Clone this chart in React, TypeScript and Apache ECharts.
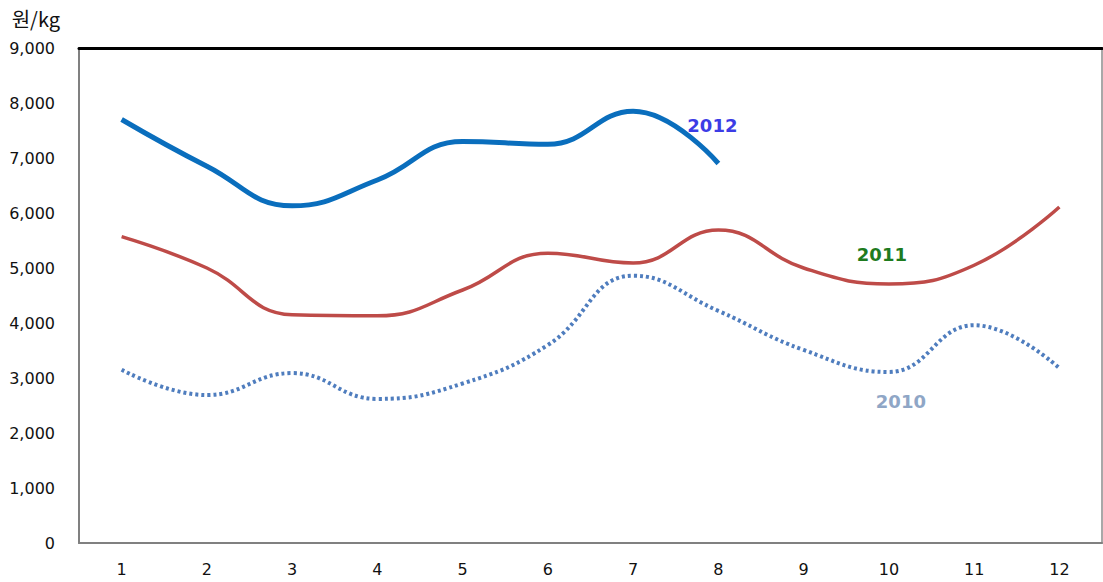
import React, { useEffect, useRef } from "react";
import * as echarts from "echarts";

const months = ["1", "2", "3", "4", "5", "6", "7", "8", "9", "10", "11", "12"];
const y2012 = [7700, 6850, 6130, 6600, 7300, 7250, 7850, 6900, null, null, null, null];
const y2011 = [5570, 5000, 4150, 4130, 4600, 5270, 5090, 5690, 5000, 4710, 5050, 6110];
const y2010 = [3150, 2690, 3090, 2620, 2900, 3600, 4860, 4220, 3510, 3110, 3960, 3180];
const yTicks = { min: 0, max: 9000, interval: 1000 };
const unitLabel = "원/kg";

const FONT = "'DejaVu Sans', 'Noto Sans CJK KR', sans-serif";
const KFONT = "'Noto Sans CJK KR', 'DejaVu Sans', sans-serif";

export default function App() {
  const ref = useRef<HTMLDivElement>(null);
  useEffect(() => {
    document.body.style.margin = "0";
    if (!ref.current) return;
    const chart = echarts.init(ref.current, null, { renderer: "svg" });
    const labelMark = (text: string, coord: [string, number], color: string, dx: number) => ({
      symbol: "circle",
      symbolSize: 0,
      silent: true,
      data: [
        {
          coord,
          label: {
            show: true,
            position: "inside",
            offset: [dx, 0],
            formatter: text,
            color,
            fontSize: 18,
            fontWeight: "bold",
            fontFamily: FONT,
          },
        },
      ],
    });
    chart.setOption({
      animation: false,
      backgroundColor: "#ffffff",
      grid: {
        left: 79,
        right: 1,
        top: 48,
        bottom: 39,
        show: true,
        borderColor: "#8c8c8c",
        borderWidth: 1.5,
      },
      xAxis: [
        {
          type: "category",
          data: months,
          boundaryGap: true,
          axisLine: { show: true, lineStyle: { color: "#808080", width: 2 } },
          axisTick: { show: false },
          axisLabel: { color: "#111", fontSize: 16, margin: 18, fontFamily: FONT },
          splitLine: { show: false },
        },
        {
          type: "category",
          data: months,
          position: "top",
          axisLine: { show: true, lineStyle: { color: "#000", width: 3 } },
          axisTick: { show: false },
          axisLabel: { show: false },
        },
      ],
      yAxis: {
        type: "value",
        min: yTicks.min,
        max: yTicks.max,
        interval: yTicks.interval,
        name: unitLabel,
        nameLocation: "end",
        nameGap: 20,
        nameTextStyle: {
          color: "#111",
          fontSize: 20,
          fontFamily: KFONT,
          align: "right",
          padding: [0, 19, 0, 0],
        },
        axisLine: { show: true, lineStyle: { color: "#808080", width: 2 } },
        axisTick: { show: false },
        splitLine: { show: false },
        axisLabel: {
          color: "#111",
          fontSize: 16,
          margin: 24,
          fontFamily: FONT,
          formatter: (v: number) => v.toLocaleString("en-US"),
        },
      },
      series: [
        {
          name: "2010",
          type: "line",
          data: y2010,
          smooth: 0.45,
          symbol: "none",
          lineStyle: { color: "#4F7DBE", width: 4, type: [3, 3] },
          markPoint: labelMark("2010", ["10", 2570], "#8FA6C6", 12),
        },
        {
          name: "2011",
          type: "line",
          data: y2011,
          smooth: 0.45,
          symbol: "none",
          lineStyle: { color: "#BE4B48", width: 3.5 },
          markPoint: labelMark("2011", ["10", 5240], "#1E7B1E", -7),
        },
        {
          name: "2012",
          type: "line",
          data: y2012,
          smooth: 0.45,
          symbol: "none",
          connectNulls: false,
          lineStyle: { color: "#0A6EBD", width: 5 },
          markPoint: labelMark("2012", ["8", 7600], "#3C3CE6", -6),
        },
      ],
    });
    return () => chart.dispose();
  }, []);
  return <div ref={ref} style={{ width: 1103, height: 582 }} />;
}
